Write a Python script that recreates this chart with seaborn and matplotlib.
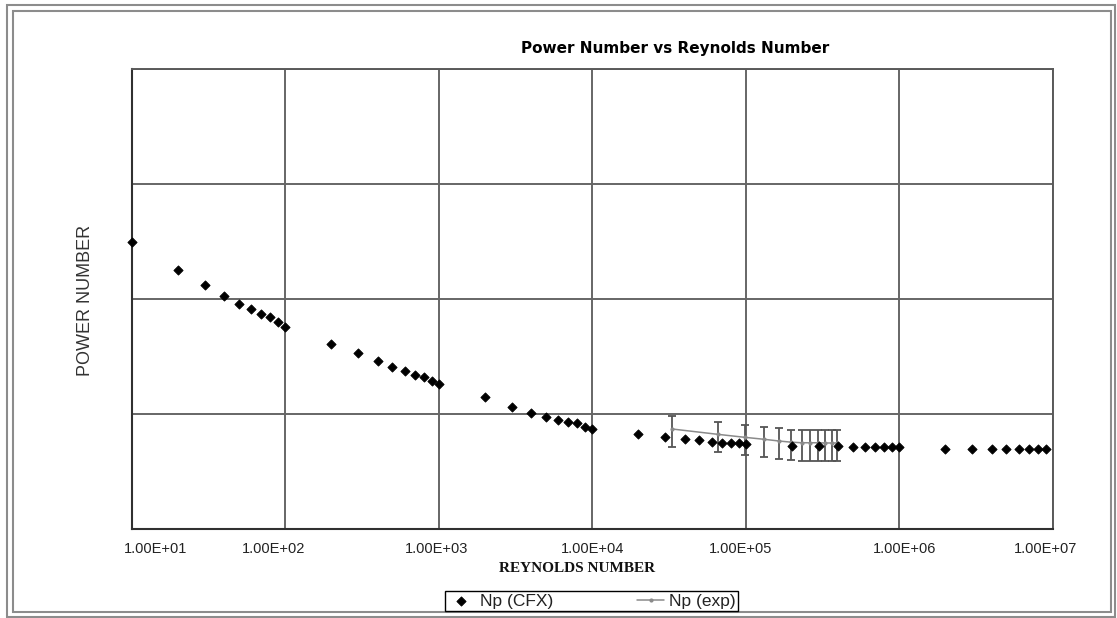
import matplotlib
matplotlib.use("Agg")
import matplotlib.pyplot as plt
from matplotlib.patches import Rectangle
from matplotlib.transforms import ScaledTranslation
import seaborn as sns
import pandas as pd

# ---------------- data ----------------
re_cfx = [10, 20, 30, 40, 50, 60, 70, 80, 90, 100,
          200, 300, 400, 500, 600, 700, 800, 900, 1000,
          2000, 3000, 4000, 5000, 6000, 7000, 8000, 9000, 10000,
          2e4, 3e4, 4e4, 5e4, 6e4, 7e4, 8e4, 9e4, 1e5,
          2e5, 3e5, 4e5, 5e5, 6e5, 7e5, 8e5, 9e5, 1e6,
          2e6, 3e6, 4e6, 5e6, 6e6, 7e6, 8e6, 9e6]
np_cfx = [2.50, 2.25, 2.12, 2.03, 1.96, 1.91, 1.87, 1.84, 1.80, 1.76,
          1.61, 1.53, 1.46, 1.41, 1.37, 1.34, 1.32, 1.29, 1.26,
          1.15, 1.06, 1.01, 0.97, 0.95, 0.93, 0.92, 0.89, 0.87,
          0.83, 0.80, 0.78, 0.77, 0.76, 0.75, 0.75, 0.75, 0.74,
          0.72, 0.72, 0.72, 0.71, 0.71, 0.71, 0.71, 0.71, 0.71,
          0.70, 0.70, 0.70, 0.70, 0.70, 0.70, 0.70, 0.70]

re_exp = [3.3e4, 6.6e4, 9.9e4, 1.32e5, 1.65e5, 1.98e5, 2.31e5, 2.64e5,
          2.97e5, 3.30e5, 3.63e5, 3.96e5]
np_exp = [0.870, 0.823, 0.797, 0.780, 0.765, 0.755, 0.750, 0.750,
          0.750, 0.748, 0.748, 0.748]
err_up = [0.11] * 12
err_dn = [0.155] * 12

x_ticks = [1e1, 1e2, 1e3, 1e4, 1e5, 1e6, 1e7]
x_tick_labels = ["1.00E+01", "1.00E+02", "1.00E+03", "1.00E+04",
                 "1.00E+05", "1.00E+06", "1.00E+07"]
y_ticks = [0, 1, 2, 3, 4]

title = "Power Number vs Reynolds Number"
x_label = "REYNOLDS NUMBER"
y_label = "POWER NUMBER"

# ---------------- style ----------------
sns.set_style("white")
plt.rcParams["font.family"] = ["Liberation Sans", "DejaVu Sans"]

W, H = 1117, 618
fig = plt.figure(figsize=(W / 100, H / 100), dpi=100)
ax = fig.add_axes([131.7 / W, 89 / H, 921 / W, 460 / H])

df_cfx = pd.DataFrame({"Re": re_cfx, "Np": np_cfx})
df_exp = pd.DataFrame({"Re": re_exp, "Np": np_exp})

# experimental error bars
ax.errorbar(re_exp, np_exp, yerr=[err_dn, err_up], fmt="none",
            ecolor="#555555", elinewidth=1.3, capsize=2.8, capthick=1.3,
            zorder=3)
sns.lineplot(data=df_exp, x="Re", y="Np", ax=ax, color="#8a8a8a",
             linewidth=1.1, marker="o", markersize=3, markeredgewidth=0,
             label="Np (exp)", zorder=4)
sns.scatterplot(data=df_cfx, x="Re", y="Np", ax=ax, marker="D", s=22,
                color="black", edgecolor="black", linewidth=0.6,
                label="Np (CFX)", zorder=5, clip_on=False)

ax.set_xscale("log")
ax.set_xlim(1e1, 1e7)
ax.set_ylim(0, 4)
ax.set_xticks(x_ticks)
ax.set_xticklabels(x_tick_labels)
ax.xaxis.set_minor_locator(matplotlib.ticker.NullLocator())
ax.set_yticks(y_ticks)
ax.set_yticklabels([])
ax.set_xlabel("")
ax.set_ylabel("")

ax.grid(True, which="major", color="#666666", linewidth=1.4)
ax.set_axisbelow(True)
for side in ["left", "bottom"]:
    ax.spines[side].set_color("#303030")
    ax.spines[side].set_linewidth(1.5)
for side in ["top", "right"]:
    ax.spines[side].set_color("#5a5a5a")
    ax.spines[side].set_linewidth(1.4)

ax.tick_params(axis="x", direction="inout", length=7, width=1.2,
               color="#303030", pad=6, labelsize=10.5, labelcolor="#222222")
ax.tick_params(axis="y", direction="inout", length=9, width=1.2,
               color="#303030")

# shift tick labels like the original layout
offsets_px = [24, -12, -2, 0, -5, 5, -7]
for tick, dx in zip(ax.xaxis.get_major_ticks(), offsets_px):
    lbl = tick.label1
    lbl.set_transform(lbl.get_transform() +
                      ScaledTranslation(dx / 100, 0, fig.dpi_scale_trans))

# legend
handles, labels = ax.get_legend_handles_labels()
if ax.get_legend() is not None:
    ax.get_legend().remove()
order = [labels.index("Np (CFX)"), labels.index("Np (exp)")]
leg = fig.legend([handles[i] for i in order], [labels[i] for i in order],
                 loc="center", ncol=2,
                 bbox_to_anchor=(445 / W, 5 / H, 293 / W, 24 / H),
                 mode="expand", frameon=True, fancybox=False,
                 edgecolor="black", framealpha=1, borderpad=0.15,
                 handlelength=1.6, handletextpad=0.25, columnspacing=1.0,
                 prop={"family": "Liberation Sans", "size": 12.5},
                 borderaxespad=0)
leg.get_frame().set_linewidth(1.0)
for t in leg.get_texts():
    t.set_color("#222222")

# texts
fig.text(675 / W, 1 - 49 / H, title, ha="center", va="center",
         fontsize=11, fontweight="bold", family="DejaVu Sans", color="black")
fig.text(577 / W, 1 - 568 / H, x_label, ha="center", va="center",
         fontsize=11, fontweight="bold", family="Liberation Serif",
         color="#111111")
fig.text(85 / W, 1 - 300 / H, y_label, ha="center", va="center",
         rotation=90, fontsize=13, family="Liberation Sans", color="#333333")

# double outer frame
fig.patches.append(Rectangle((7 / W, 1 / H), 1108 / W, 612 / H,
                             transform=fig.transFigure, fill=False,
                             edgecolor="#8c8c8c", linewidth=1.5))
fig.patches.append(Rectangle((13 / W, 6 / H), 1098 / W, 601 / H,
                             transform=fig.transFigure, fill=False,
                             edgecolor="#8c8c8c", linewidth=1.5))

fig.savefig("out.png", dpi=100)
